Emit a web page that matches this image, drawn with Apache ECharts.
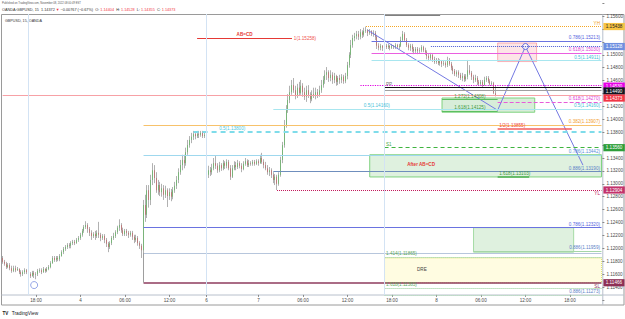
<!DOCTYPE html>
<html><head><meta charset="utf-8">
<script src="https://cdn.jsdelivr.net/npm/echarts@6/dist/echarts.min.js"></script>
<style>html,body{margin:0;padding:0;background:#fff}#c{width:625px;height:319px}</style>
</head><body><div id="c"></div>
<script>
// ================= DATA =================
const sessionStarts = ['2022-11-03 13:30', '2022-11-06 17:00'];
const sessionBarCounts = [110, 214];

// OANDA:GBPUSD 15m candles [open, close, low, high]
const ohlc = [
[1.1185,1.1179,1.1176,1.1188],[1.1179,1.1176,1.1173,1.1182],[1.1176,1.1171,1.1168,1.1179],[1.1171,1.1174,1.1169,1.1177],[1.1174,1.1169,1.1166,1.1177],
[1.1169,1.1165,1.1162,1.1173],[1.1165,1.1169,1.1163,1.1173],[1.1169,1.1166,1.1163,1.1173],[1.1166,1.1168,1.1165,1.1171],[1.1168,1.1163,1.1160,1.1169],
[1.1163,1.1160,1.1156,1.1166],[1.1160,1.1163,1.1157,1.1166],[1.1163,1.1166,1.1160,1.1169],[1.1166,1.1163,1.1160,1.1168],[1.1163,1.1160,1.1157,1.1165],
[1.1160,1.1157,1.1154,1.1163],[1.1157,1.1162,1.1156,1.1165],[1.1162,1.1159,1.1154,1.1165],[1.1159,1.1160,1.1152,1.1163],[1.1160,1.1165,1.1157,1.1168],
[1.1165,1.1166,1.1162,1.1169],[1.1166,1.1163,1.1160,1.1169],[1.1163,1.1168,1.1162,1.1171],[1.1168,1.1165,1.1162,1.1169],[1.1165,1.1168,1.1163,1.1171],
[1.1168,1.1171,1.1166,1.1174],[1.1171,1.1177,1.1169,1.1180],[1.1177,1.1185,1.1176,1.1188],[1.1185,1.1182,1.1179,1.1188],[1.1182,1.1185,1.1179,1.1188],
[1.1185,1.1183,1.1180,1.1188],[1.1183,1.1188,1.1180,1.1191],[1.1188,1.1194,1.1187,1.1197],[1.1194,1.1199,1.1191,1.1202],[1.1199,1.1202,1.1196,1.1205],
[1.1202,1.1205,1.1199,1.1208],[1.1205,1.1204,1.1200,1.1208],[1.1204,1.1208,1.1200,1.1211],[1.1208,1.1210,1.1205,1.1213],[1.1210,1.1208,1.1205,1.1213],
[1.1208,1.1213,1.1207,1.1216],[1.1213,1.1216,1.1210,1.1219],[1.1216,1.1221,1.1213,1.1224],[1.1221,1.1227,1.1218,1.1230],[1.1227,1.1233,1.1224,1.1236],
[1.1233,1.1236,1.1230,1.1242],[1.1236,1.1230,1.1224,1.1239],[1.1230,1.1224,1.1219,1.1233],[1.1224,1.1219,1.1213,1.1228],[1.1219,1.1222,1.1216,1.1225],
[1.1222,1.1219,1.1213,1.1227],[1.1219,1.1224,1.1216,1.1228],[1.1224,1.1221,1.1216,1.1241],[1.1221,1.1216,1.1211,1.1224],[1.1216,1.1219,1.1213,1.1222],
[1.1219,1.1213,1.1208,1.1222],[1.1213,1.1207,1.1202,1.1216],[1.1207,1.1202,1.1194,1.1210],[1.1202,1.1208,1.1199,1.1211],[1.1208,1.1216,1.1205,1.1219],
[1.1216,1.1219,1.1213,1.1224],[1.1219,1.1225,1.1216,1.1228],[1.1225,1.1232,1.1222,1.1235],[1.1232,1.1236,1.1227,1.1245],[1.1236,1.1228,1.1224,1.1239],
[1.1228,1.1222,1.1219,1.1232],[1.1222,1.1227,1.1219,1.1230],[1.1227,1.1224,1.1219,1.1230],[1.1224,1.1221,1.1216,1.1227],[1.1221,1.1224,1.1218,1.1227],
[1.1224,1.1218,1.1213,1.1227],[1.1218,1.1213,1.1208,1.1221],[1.1213,1.1216,1.1210,1.1221],[1.1216,1.1208,1.1204,1.1219],[1.1208,1.1204,1.1199,1.1211],
[1.1204,1.1197,1.1185,1.1207],[1.1197,1.1267,1.1185,1.1275],[1.1267,1.1252,1.1241,1.1283],[1.1252,1.1290,1.1247,1.1298],[1.1290,1.1275,1.1263,1.1298],
[1.1275,1.1306,1.1267,1.1314],[1.1306,1.1321,1.1298,1.1332],[1.1321,1.1309,1.1301,1.1329],[1.1309,1.1290,1.1286,1.1318],[1.1290,1.1298,1.1283,1.1306],
[1.1298,1.1287,1.1281,1.1303],[1.1287,1.1293,1.1280,1.1300],[1.1293,1.1283,1.1275,1.1298],[1.1283,1.1290,1.1278,1.1297],[1.1290,1.1281,1.1264,1.1293],
[1.1281,1.1287,1.1275,1.1293],[1.1287,1.1280,1.1273,1.1292],[1.1280,1.1290,1.1276,1.1295],[1.1290,1.1297,1.1286,1.1303],[1.1297,1.1306,1.1292,1.1312],
[1.1306,1.1318,1.1301,1.1324],[1.1318,1.1329,1.1314,1.1337],[1.1329,1.1337,1.1321,1.1345],[1.1337,1.1332,1.1324,1.1345],[1.1332,1.1349,1.1328,1.1356],
[1.1349,1.1360,1.1345,1.1368],[1.1360,1.1368,1.1356,1.1374],[1.1368,1.1373,1.1363,1.1379],[1.1373,1.1377,1.1368,1.1382],[1.1377,1.1374,1.1369,1.1380],
[1.1374,1.1377,1.1371,1.1382],[1.1377,1.1376,1.1371,1.1382],[1.1376,1.1379,1.1373,1.1382],[1.1379,1.1374,1.1371,1.1382],[1.1374,1.1376,1.1371,1.1379],
[1.1376,1.1314,1.1309,1.1379],[1.1314,1.1321,1.1309,1.1328],[1.1321,1.1318,1.1312,1.1326],[1.1318,1.1324,1.1314,1.1331],[1.1324,1.1332,1.1321,1.1340],
[1.1332,1.1328,1.1323,1.1343],[1.1328,1.1321,1.1317,1.1332],[1.1321,1.1329,1.1318,1.1334],[1.1329,1.1324,1.1320,1.1332],[1.1324,1.1332,1.1321,1.1337],
[1.1332,1.1328,1.1323,1.1335],[1.1328,1.1334,1.1324,1.1338],[1.1334,1.1324,1.1321,1.1337],[1.1324,1.1311,1.1306,1.1329],[1.1311,1.1324,1.1309,1.1329],
[1.1324,1.1329,1.1321,1.1335],[1.1329,1.1326,1.1321,1.1334],[1.1326,1.1332,1.1323,1.1337],[1.1332,1.1328,1.1324,1.1335],[1.1328,1.1323,1.1318,1.1332],
[1.1323,1.1331,1.1321,1.1335],[1.1331,1.1335,1.1328,1.1340],[1.1335,1.1329,1.1326,1.1338],[1.1329,1.1332,1.1326,1.1337],[1.1332,1.1331,1.1328,1.1335],
[1.1331,1.1334,1.1328,1.1337],[1.1334,1.1331,1.1328,1.1337],[1.1331,1.1335,1.1329,1.1338],[1.1335,1.1332,1.1328,1.1338],[1.1332,1.1340,1.1331,1.1345],
[1.1340,1.1334,1.1331,1.1348],[1.1334,1.1329,1.1324,1.1338],[1.1329,1.1324,1.1321,1.1334],[1.1324,1.1318,1.1314,1.1329],[1.1318,1.1321,1.1312,1.1326],
[1.1321,1.1314,1.1309,1.1324],[1.1314,1.1306,1.1301,1.1318],[1.1306,1.1311,1.1298,1.1315],[1.1311,1.1300,1.12904,1.1314],[1.1300,1.1314,1.1297,1.1318],
[1.1314,1.1337,1.1311,1.1342],[1.1337,1.1360,1.1332,1.1365],[1.1360,1.1391,1.1356,1.1399],[1.1391,1.1414,1.1387,1.1422],[1.1414,1.1430,1.1410,1.1439],
[1.1430,1.1442,1.1425,1.1452],[1.1442,1.1453,1.1438,1.1461],[1.1453,1.1445,1.1441,1.1464],[1.1445,1.1436,1.1431,1.1452],[1.1436,1.1449,1.1433,1.1455],
[1.1449,1.1441,1.1436,1.1458],[1.1441,1.1452,1.1438,1.1461],[1.1452,1.1442,1.1435,1.1456],[1.1442,1.1435,1.1430,1.1449],[1.1435,1.1445,1.1427,1.1452],
[1.1445,1.1438,1.1433,1.1453],[1.1438,1.1431,1.1425,1.1442],[1.1431,1.1439,1.1428,1.1445],[1.1439,1.1436,1.1433,1.1449],[1.1436,1.1442,1.1431,1.1449],
[1.1442,1.1438,1.1433,1.1447],[1.1438,1.1445,1.1435,1.1452],[1.1445,1.1453,1.1441,1.1461],[1.1453,1.1461,1.1449,1.1467],[1.1461,1.1469,1.1455,1.1476],
[1.1469,1.1473,1.1461,1.1481],[1.1473,1.1464,1.1458,1.1476],[1.1464,1.1469,1.1459,1.1476],[1.1469,1.1461,1.1455,1.1473],[1.1461,1.1467,1.1456,1.1472],
[1.1467,1.1458,1.1452,1.1469],[1.1458,1.1464,1.1453,1.1467],[1.1464,1.1461,1.1455,1.1469],[1.1461,1.1466,1.1456,1.1470],[1.1466,1.1459,1.1455,1.1469],
[1.1459,1.1467,1.1456,1.1472],[1.1467,1.1484,1.1462,1.1489],[1.1484,1.1500,1.1480,1.1504],[1.1500,1.1515,1.1495,1.1523],[1.1515,1.1526,1.1511,1.1531],
[1.1526,1.1529,1.1521,1.1534],[1.1529,1.1532,1.1524,1.1537],[1.1532,1.1528,1.1523,1.1537],[1.1528,1.1535,1.1524,1.1540],[1.1535,1.1531,1.1526,1.1538],
[1.1531,1.1537,1.1528,1.1542],[1.1537,1.1538,1.1534,1.15438],[1.1538,1.1534,1.1529,1.1540],[1.1534,1.1537,1.1531,1.1540],[1.1537,1.1532,1.1529,1.1538],
[1.1532,1.1534,1.1528,1.1538],[1.1534,1.1528,1.1523,1.1537],[1.1528,1.1514,1.1509,1.1531],[1.1514,1.1511,1.1507,1.1518],[1.1511,1.1514,1.1507,1.1517],
[1.1514,1.1511,1.1506,1.1515],[1.1511,1.1514,1.1507,1.1517],[1.1514,1.1512,1.1509,1.1517],[1.1512,1.1514,1.1509,1.1517],[1.1514,1.1511,1.1507,1.1515],
[1.1511,1.1514,1.1509,1.1517],[1.1514,1.1512,1.1509,1.1515],[1.1512,1.1515,1.1509,1.1518],[1.1515,1.1512,1.1509,1.1517],[1.1512,1.1514,1.1509,1.1517],
[1.1514,1.1523,1.1512,1.1528],[1.1523,1.1532,1.1520,1.1537],[1.1532,1.1523,1.1520,1.1535],[1.1523,1.1515,1.1512,1.1526],[1.1515,1.1511,1.1507,1.1518],
[1.1511,1.1514,1.1506,1.1517],[1.1514,1.1509,1.1504,1.1517],[1.1509,1.1506,1.1501,1.1512],[1.1506,1.1509,1.1503,1.1512],[1.1509,1.1506,1.1501,1.1512],
[1.1506,1.1507,1.1503,1.1511],[1.1507,1.1512,1.1504,1.1515],[1.1512,1.1507,1.1504,1.1514],[1.1507,1.1504,1.1500,1.1511],[1.1504,1.1498,1.1493,1.1507],
[1.1498,1.1495,1.1490,1.1501],[1.1495,1.1500,1.1492,1.1503],[1.1500,1.1493,1.1489,1.1501],[1.1493,1.1489,1.1486,1.1497],[1.1489,1.1492,1.1486,1.1495],
[1.1492,1.1487,1.1484,1.1495],[1.1487,1.1490,1.1483,1.1493],[1.1490,1.1486,1.1481,1.1492],[1.1486,1.1487,1.1483,1.1492],[1.1487,1.1484,1.1480,1.1490],
[1.1484,1.1492,1.1481,1.1497],[1.1492,1.1486,1.1483,1.1495],[1.1486,1.1480,1.1476,1.1489],[1.1480,1.1475,1.1470,1.1483],[1.1475,1.1470,1.1467,1.1478],
[1.1470,1.1473,1.1466,1.1476],[1.1473,1.1469,1.1464,1.1476],[1.1469,1.1464,1.1461,1.1472],[1.1464,1.1467,1.1459,1.1472],[1.1467,1.1462,1.1458,1.1470],
[1.1462,1.1466,1.1459,1.1470],[1.1466,1.1476,1.1462,1.1492],[1.1476,1.1472,1.1469,1.1484],[1.1472,1.1466,1.1461,1.1475],[1.1466,1.1461,1.1456,1.1469],
[1.1461,1.1464,1.1458,1.1469],[1.1464,1.1458,1.1453,1.1467],[1.1458,1.1455,1.1452,1.1461],[1.1455,1.1458,1.1452,1.1461],[1.1458,1.1453,1.1450,1.1461],
[1.1453,1.1461,1.1452,1.1466],[1.1461,1.1464,1.1458,1.1467],[1.1464,1.1459,1.1456,1.1467],[1.1459,1.1455,1.1452,1.1462],[1.1455,1.1456,1.1452,1.1459],
[1.1456,1.1441,1.1439,1.1458],[1.14404,1.14373,1.14355,1.14528]
];

// horizontal drawing levels (price, from, to, text)
const END = '2022-11-08 22:15';
const levelPrices = [1.15438,1.15617,1.15258,1.15258,1.15213,1.15128,1.15030,1.14911,1.14530,1.14490,1.14454,1.14373,1.14270,1.14308,1.14125,1.14160,1.14160,1.13907,1.13855,1.13800,1.13800,1.13560,1.13442,1.13190,1.13103,1.12904,1.12320,1.11959,1.11928,1.11865,1.11466,1.11383,1.11273];
const levelFrom = ['2022-11-07 14:30','2022-11-07 17:00','2022-11-04 15:45','2022-11-04 15:45','2022-11-07 15:15','2022-11-07 23:15','2022-11-07 15:15','2022-11-07 15:15','2022-11-07 13:45','2022-11-07 17:00','2022-11-07 17:00','2022-11-03 13:30','2022-11-08 08:15','2022-11-08 00:45','2022-11-08 00:45','2022-11-07 14:00','2022-11-07 02:00','2022-11-04 08:30','2022-11-08 08:15','2022-11-04 15:15','2022-11-06 18:30','2022-11-07 17:00','2022-11-04 08:30','2022-11-07 02:00','2022-11-08 08:15','2022-11-07 02:30','2022-11-04 08:30','2022-11-08 05:00','2022-11-04 08:30','2022-11-07 17:00','2022-11-04 08:30','2022-11-07 17:00','2022-11-07 17:00'];
const levelTo = [END,'2022-11-08 00:30','2022-11-07 04:30','2022-11-07 04:30',END,END,END,END,END,END,END,END,END,'2022-11-08 08:15','2022-11-08 08:15',END,END,END,'2022-11-08 18:15',END,END,END,END,END,'2022-11-08 12:30',END,END,END,END,END,END,END,END];
const levelLabels = ['YH','','AB=CD','1(1.15258)','0.786(1.15213)','','0.618(1.15030)','0.5(1.14911)','','PP','','','0.618(1.14270)','1.272(1.14308)','1.618(1.14125)','0.5(1.14160)','0.5(1.14160)','0.382(1.13907)','1/2(1.13855)','','0.5(1.13800)','S1','0.786(1.13442)','0.886(1.13190)','1.618(1.13103)','YL','0.786(1.12320)','0.886(1.11959)','','1.414(1.11865)','SL','1.618(1.11383)','0.886(1.11273)'];
const levelStyleKeys = ['yh','topGray','abcdMid','abcdEnd','fibBlue','blueDotted','fibMagenta','fibCyan','magentaDotted','pivot','pivotShadow','priceLine','magentaDashed','extGreenMid','extGreenMid','fibCyanStart','fibCyan','fibOrange','redStart','cyanDashed','cyanLabelOnly','support','fibLightBlue','fibSteel','extGreenStart','yl','fibBlue','fibGreenLight','steelLight','extGreenDotted','sl','extGreenDotted','fibBlueDotted'];

// zones (rectangles)
const zoneFrom = ['2022-11-08 08:15','2022-11-08 00:45','2022-11-07 15:00','2022-11-08 05:00','2022-11-07 17:00'];
const zoneTo = ['2022-11-08 13:30','2022-11-08 13:15',END,'2022-11-08 18:30',END];
const zoneTop = [1.15183,1.14330,1.13450,1.12320,1.11850];
const zoneBottom = [1.14895,1.14110,1.13106,1.11940,1.11466];
const zoneLabels = ['','','After AB=CD','','DRE'];

// harmonic pattern swing points
const zigzagTimes = ['2022-11-07 14:45','2022-11-08 08:15','2022-11-08 12:00','2022-11-08 19:45'];
const zigzagPrices = [1.1538,1.1414,1.15128,1.1329];
const markerTimes = ['2022-11-03 17:45'];
const markerPrices = [1.1143];

// session breaks & other verticals
const sessionBreaks = ['2022-11-03 17:00','2022-11-06 17:00','2022-11-07 17:00'];
const paneTopPrice = 1.15633, paneBottomPrice = 1.11276;
const boxEdgeTime = '2022-11-04 08:30', boxEdgeTop = 1.11928, boxEdgeBottom = 1.11466;

// price axis tags
const tagPrices = [1.15438,1.15128,1.14530,1.14490,1.14373,1.13560,1.12904,1.11466];
const hiddenPriceTicks = [1.154,1.152,1.144,1.136];

// ================= STYLES =================
const FONT = '"Liberation Sans", Arial, sans-serif';
const FS = 4.6;
const levelStyles = {
  yh:{color:'#f5a623',type:'dotted',width:1,pos:'insideEndTop',text:'#f0a020'},
  topGray:{color:'#808080',width:1},
  abcdMid:{color:'#e53935',width:1,pos:'insideMiddleTop',text:'#e53935',bold:true},
  abcdEnd:{color:'#e53935',width:1,pos:'end',text:'#ef5350'},
  fibBlue:{color:'#6a73e0',width:1,pos:'insideEndTop',text:'#5563de'},
  blueDotted:{color:'#4a5bd4',type:'dotted',width:1},
  fibMagenta:{color:'#ea5fe0',width:1,pos:'insideEndTop',text:'#e040d8'},
  fibCyan:{color:'#a8e6ef',width:1,pos:'insideEndTop',text:'#3fc1d8'},
  fibCyanStart:{color:'#a8e6ef',width:1,pos:'insideStartTop',text:'#3fc1d8'},
  magentaDotted:{color:'#e000e0',type:'dotted',width:1.2},
  pivot:{color:'#111111',width:1.2,pos:'insideStartTop',text:'#777777'},
  pivotShadow:{color:'#a0a0a0',width:1},
  priceLine:{color:'#f7a1a6',width:1},
  magentaDashed:{color:'#e85bd9',type:[4,2],width:1,pos:'insideEndTop',text:'#e040d8'},
  extGreenMid:{color:'#5cbf60',width:1,pos:'insideMiddleTop',text:'#3c9a40'},
  fibOrange:{color:'#f7c26b',width:1,pos:'insideEndTop',text:'#f29d2b'},
  redStart:{color:'#f25c5c',width:1.5,pos:'insideStartTop',text:'#ef4444'},
  cyanDashed:{color:'#7fdcea',type:[5,4],width:2},
  cyanLabelOnly:{color:'rgba(0,0,0,0)',width:0,pos:'insideStartTop',text:'#4cc9de'},
  support:{color:'#3fb43f',type:[4,3],width:1,pos:'insideStartTop',text:'#3fa83f'},
  fibLightBlue:{color:'#9fd8ee',width:1,pos:'insideEndTop',text:'#5a8fd8'},
  fibSteel:{color:'#6f8ebd',width:1,pos:'insideEndTop',text:'#5b7fc7'},
  extGreenStart:{color:'#4caf50',width:1.5,pos:'insideStartTop',text:'#3c9a40'},
  yl:{color:'#c2185b',type:'dotted',width:1,pos:'insideEndBottom',text:'#c2185b'},
  fibGreenLight:{color:'#a5d6a7',width:1,pos:'insideEndTop',text:'#5b7fc7'},
  steelLight:{color:'#b7c6dc',width:1},
  extGreenDotted:{color:'#8bc98d',type:'dotted',width:1,pos:'insideStartTop',text:'#5aa85c'},
  sl:{color:'#8e3b5e',width:1.5,pos:'insideEndBottom',text:'#8e3b5e'},
  fibBlueDotted:{color:'#a8d8b0',type:'dotted',width:1,pos:'insideEndTop',text:'#5b7fc7'}
};
const zoneStyles = [
  {fill:'rgba(242,54,69,0.13)',border:'rgba(242,54,69,0.35)'},
  {fill:'rgba(76,175,80,0.22)',border:'#7fd27f'},
  {fill:'rgba(76,175,80,0.18)',border:'#7fd27f',text:'#e53935',bold:true,labelPos:[38,8]},
  {fill:'rgba(76,175,80,0.18)',border:'#a5dba5'},
  {fill:'rgba(255,241,118,0.22)',border:'#dfe36a',borderType:'dotted',text:'#444',labelPos:[33,10]}
];
const tagStyles = [
  {bg:'#f6c343',fg:'#222',shift:0},{bg:'#6e8fe0',fg:'#fff',shift:0},{bg:'#e600e6',fg:'#fff',shift:1},
  {bg:'#131722',fg:'#fff',shift:3.3},{bg:'#f23645',fg:'#fff',shift:2.8},{bg:'#2e9e3a',fg:'#fff',shift:0},
  {bg:'#c2336b',fg:'#fff',shift:0},{bg:'#8e2f55',fg:'#fff',shift:0}
];

// ================= BUILD =================
function pad(n){return (n<10?'0':'')+n;}
const categories = [];
const sessionFirstIndex = [];
sessionStarts.forEach((s, k) => {
  const [d, t] = s.split(' ');
  const [Y, M, D] = d.split('-').map(Number);
  const [h, m] = t.split(':').map(Number);
  const base = Date.UTC(Y, M - 1, D, h, m);
  sessionFirstIndex.push(categories.length);
  for (let i = 0; i < sessionBarCounts[k]; i++) {
    const dt = new Date(base + i * 15 * 60000);
    categories.push(dt.getUTCFullYear() + '-' + pad(dt.getUTCMonth() + 1) + '-' + pad(dt.getUTCDate()) + ' ' + pad(dt.getUTCHours()) + ':' + pad(dt.getUTCMinutes()));
  }
});
function showTimeLabel(idx, val) {
  if (typeof val !== 'string') val = categories[idx];
  if (sessionFirstIndex.indexOf(idx) > 0) return true;
  for (const s of sessionFirstIndex) if (s > 0 && idx > s && idx - s < 12) return false;
  const t = val.slice(11);
  return t === '00:00' || t === '06:00' || t === '12:00' || t === '18:00';
}
function fmtTimeLabel(val, idx) {
  const t = val.slice(11);
  if (t === '00:00' || sessionFirstIndex.indexOf(idx) > 0) return String(Number(val.slice(8, 10)));
  return t;
}
const bodies = ohlc.map(d => [d[0], d[1], Math.min(d[0], d[1]), Math.max(d[0], d[1])]);

const lineData = levelPrices.map((p, i) => {
  const st = levelStyles[levelStyleKeys[i]];
  const lbl = levelLabels[i];
  return [
    { coord: [levelFrom[i], p],
      lineStyle: { color: st.color, type: st.type || 'solid', width: st.width },
      label: lbl ? { show: true, position: st.pos, formatter: lbl, color: st.text, fontSize: FS, fontFamily: FONT,
        fontWeight: st.bold ? 'bold' : 'normal', distance: st.pos === 'end' ? [2, 0] : [1.5, 0.8] } : { show: false } },
    { coord: [levelTo[i], p] }
  ];
});
sessionBreaks.forEach(t => {
  lineData.push([{ coord: [t, paneTopPrice], lineStyle: { color: '#d3e3f4', width: 1, type: 'solid' }, label: { show: false } }, { coord: [t, paneBottomPrice] }]);
});
lineData.push([{ coord: [boxEdgeTime, boxEdgeTop], lineStyle: { color: '#9e9e9e', width: 1, type: 'solid' }, label: { show: false } }, { coord: [boxEdgeTime, boxEdgeBottom] }]);

const areaData = zoneTop.map((top, i) => {
  const st = zoneStyles[i];
  return [
    { coord: [zoneFrom[i], top],
      itemStyle: { color: st.fill, borderColor: st.border, borderWidth: 1, borderType: st.borderType || 'solid' },
      label: zoneLabels[i] ? { show: true, position: st.labelPos, formatter: zoneLabels[i], color: st.text, fontSize: FS,
        fontWeight: st.bold ? 'bold' : 'normal', fontFamily: FONT } : { show: false } },
    { coord: [zoneTo[i], zoneBottom[i]] }
  ];
});

const tagRich = {};
tagStyles.forEach((s, i) => {
  tagRich['t' + i] = { backgroundColor: s.bg, color: s.fg, fontSize: FS, fontFamily: FONT, padding: [1.2, 2.4, 1, 2.4] };
  tagRich['g' + i] = { fontSize: 1, height: Math.max(2 * s.shift, 0.1), lineHeight: Math.max(2 * s.shift, 0.1) };
});

const option = {
  animation: false,
  backgroundColor: '#ffffff',
  grid: { left: 1.7, right: 22.6, top: 3.2, bottom: 19.1, containLabel: false, outerBoundsMode: 'none' },
  xAxis: {
    type: 'category', data: categories, boundaryGap: true, offset: -5,
    axisLine: { show: false },
    axisTick: { show: true, length: 2, interval: showTimeLabel, alignWithLabel: true, lineStyle: { color: '#888' } },
    axisLabel: { interval: showTimeLabel, formatter: fmtTimeLabel, fontSize: FS, color: '#4a4a4a', margin: 3.5, fontFamily: FONT },
    splitLine: { show: false }
  },
  yAxis: [
    { type: 'value', position: 'right', min: 1.112, max: 1.158, interval: 0.002,
      splitLine: { show: false }, axisLine: { show: false },
      axisTick: { show: true, length: 2, lineStyle: { color: '#888' } },
      axisLabel: { margin: 4, fontSize: FS, color: '#4a4a4a', fontFamily: FONT,
        formatter: v => (v < 1.1135 || v > 1.1565 || hiddenPriceTicks.some(h => Math.abs(h - v) < 1e-6)) ? '' : v.toFixed(5) } },
    { type: 'value', position: 'right', min: 1.112, max: 1.158,
      splitLine: { show: false }, axisLine: { show: false }, axisTick: { show: false },
      axisLabel: { margin: 1, customValues: tagPrices, rich: tagRich,
        formatter: v => {
          const i = tagPrices.findIndex(p => Math.abs(p - v) < 1e-7);
          if (i < 0) return '';
          const txt = '{t' + i + '|' + tagPrices[i].toFixed(5) + '}';
          return tagStyles[i].shift ? '{g' + i + '| }\n' + txt : txt;
        } } }
  ],
  series: [
    { type: 'candlestick', name: 'wicks', data: ohlc, barWidth: 0.3, silent: true, z: 2,
      itemStyle: { color: '#8f8f8f', color0: '#8f8f8f', borderColor: '#8f8f8f', borderColor0: '#8f8f8f', borderWidth: 0.7 } },
    { type: 'candlestick', name: 'bodies', data: bodies, barWidth: 1.3, silent: true, z: 3,
      itemStyle: { color: '#33d133', color0: '#e03434', borderColor: '#27b827', borderColor0: '#c92a2a', borderWidth: 0.4 } },
    { type: 'line', name: 'pattern', z: 4, silent: true,
      data: zigzagTimes.map((t, i) => [t, zigzagPrices[i]]),
      lineStyle: { color: '#7479e2', width: 1 },
      symbol: 'circle', symbolSize: 6, showSymbol: true,
      itemStyle: { color: 'rgba(255,255,255,0.7)', borderColor: '#6a6fdc', borderWidth: 1 },
      markLine: { silent: true, symbol: ['none', 'none'], animation: false, data: lineData },
      markArea: { silent: true, animation: false, data: areaData } },
    { type: 'scatter', name: 'marker', z: 4, silent: true,
      data: markerTimes.map((t, i) => [t, markerPrices[i]]), symbol: 'circle', symbolSize: 7,
      itemStyle: { color: 'rgba(255,255,255,0.8)', borderColor: '#7b8fe0', borderWidth: 1 } }
  ],
  graphic: [
    { type: 'rect', shape: { x: 1.5, y: 14.5, width: 622.5, height: 290.5 }, style: { fill: 'none', stroke: '#9a9a9a', lineWidth: 1 }, silent: true },
    { type: 'line', shape: { x1: 1.5, y1: 295, x2: 624, y2: 295 }, style: { stroke: '#b8c0cc', lineWidth: 1 }, silent: true },
    { type: 'line', shape: { x1: 602.8, y1: 14.5, x2: 602.8, y2: 305 }, style: { stroke: '#b8c0cc', lineWidth: 1 }, silent: true },
    { type: 'text', x: 2, y: 4, silent: true, style: { text: 'Published on TradingView.com, November 08, 2022 08:00:49 EST', fontSize: 2.7, fill: '#555', fontFamily: FONT, verticalAlign: 'middle' } },
    { type: 'text', x: 2, y: 9.6, silent: true, style: {
        text: '{k|OANDA:GBPUSD, 15  1.14372 }{r|▼}{k| −0.00767 (−0.67%)  O: }{r|1.14404}{k|  H: }{r|1.14528}{k|  L: }{r|1.14355}{k|  C: }{r|1.14373}',
        verticalAlign: 'middle',
        rich: { k: { fill: '#333', fontSize: 3.8, fontFamily: FONT }, r: { fill: '#f23645', fontSize: 3.8, fontFamily: FONT } } } },
    { type: 'text', x: 5, y: 20.5, silent: true, style: { text: 'GBPUSD, 15, OANDA', fontSize: 3.7, fill: '#333', fontFamily: FONT, verticalAlign: 'middle' } },
    { type: 'text', x: 2.5, y: 313, silent: true, style: {
        text: '{l|TV} {n|TradingView}', verticalAlign: 'middle',
        rich: { l: { fill: '#131722', fontSize: 4.6, fontWeight: 900, fontFamily: FONT }, n: { fill: '#131722', fontSize: 4.8, fontFamily: FONT } } } }
  ]
};
const chart = echarts.init(document.getElementById('c'), null, { renderer: 'svg', width: 625, height: 319 });
chart.setOption(option);
</script>
</body></html>
